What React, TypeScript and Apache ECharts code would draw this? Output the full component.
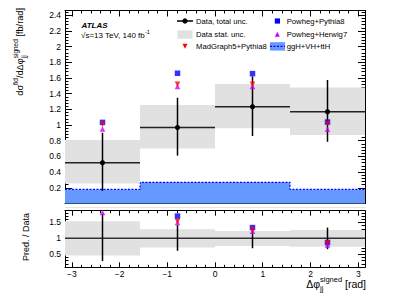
import React, { useEffect, useRef } from "react";
import * as echarts from "echarts";

// ---- data ----
const binEdges = [-3.1416, -1.5708, 0, 1.5708, 3.1416];
const binCenters = [-2.3562, -0.7854, 0.7854, 2.3562];
const dataValues = [0.519, 0.97, 1.233, 1.17];
const dataTotalLo = [0.162, 0.61, 0.86, 0.787];
const dataTotalHi = [0.902, 1.348, 1.62, 1.574];
const dataStatLo = [0.256, 0.7, 0.958, 0.872];
const dataStatHi = [0.81, 1.255, 1.523, 1.48];
const signalValues = [0.18, 0.27, 0.27, 0.18];
const powhegPythia = [1.034, 1.66, 1.655, 1.038];
const madgraphPythia = [1.01, 1.52, 1.52, 1.02];
const powhegHerwig = [0.95, 1.49, 1.49, 0.945];

const ratioTotalLo = [0.29, 0.61, 0.69, 0.66];
const ratioTotalHi = [1.78, 1.42, 1.31, 1.34];
const ratioStatLo = [0.46, 0.71, 0.76, 0.74];
const ratioStatHi = [1.54, 1.29, 1.23, 1.26];
const ratioPowhegPythia = [null, 1.7, 1.34, 0.87];
const ratioMadgraph = [null, 1.54, 1.27, 0.86];
const ratioHerwig = [1.81, 1.5, 1.22, 0.79];

const legendLeft = ["Data, total unc.", "Data stat. unc.", "MadGraph5+Pythia8"];
const legendRight = ["Powheg+Pythia8", "Powheg+Herwig7", "ggH+VH+ttH"];

const FONT = '"Liberation Sans", Arial, Helvetica, sans-serif';
const BLUE = "#0000ff";
const RED = "#ff0000";
const MAGENTA = "#cc00ff";
const BAND = "#e1e1e1";
const SIGFILL = "#6699ff";

const X0 = 65, XW = 300;
const G1T = 10.5, G1H = 193;
const G2T = 210.7, G2H = 56.6;

let ctx: CanvasRenderingContext2D | null = null;
function measure(t: string, size: number, weight = "normal", style = "normal") {
  if (!ctx) ctx = document.createElement("canvas").getContext("2d");
  if (!ctx) return t.length * size * 0.55;
  ctx.font = `${style} ${weight} ${size}px ${FONT}`;
  return ctx.measureText(t).width;
}

type Tok = { t: string; size: number; dy?: number; stackWith?: { t: string; size: number; dy: number } };
function layout(tokens: Tok[], color = "#000") {
  const children: any[] = [];
  let x = 0;
  for (const tk of tokens) {
    const w1 = measure(tk.t, tk.size);
    children.push({
      type: "text", x, y: tk.dy || 0,
      style: { text: tk.t, fontSize: tk.size, fontFamily: FONT, fill: color, align: "left", verticalAlign: "middle" },
    });
    let w = w1;
    if (tk.stackWith) {
      const w2 = measure(tk.stackWith.t, tk.stackWith.size);
      children.push({
        type: "text", x, y: tk.stackWith.dy,
        style: { text: tk.stackWith.t, fontSize: tk.stackWith.size, fontFamily: FONT, fill: color, align: "left", verticalAlign: "middle" },
      });
      w = Math.max(w1, w2);
    }
    x += w;
  }
  return { children, width: x };
}

function fmtTick(v: number, step: number) {
  const k = Math.round(v / step);
  if (Math.abs(v - k * step) > 1e-6) return "";
  const r = parseFloat((k * step).toFixed(2));
  return r < 0 ? "\u2212" + Math.abs(r) : String(r);
}

function errRender(withBar: boolean, withMarker: boolean) {
  return (params: any, api: any) => {
    const x = api.value(0), y = api.value(1);
    const xl = api.value(2), xh = api.value(3), yl = api.value(4), yh = api.value(5);
    const c = api.coord([x, y]);
    const lo = api.coord([x, yl]);
    const hi = api.coord([x, yh]);
    const children: any[] = [];
    if (withBar) {
      const l = api.coord([xl, y]);
      const r = api.coord([xh, y]);
      children.push({ type: "line", shape: { x1: l[0], y1: l[1], x2: r[0], y2: r[1] }, style: { stroke: "#222", lineWidth: 1.5 } });
    }
    children.push({ type: "line", shape: { x1: lo[0], y1: lo[1], x2: hi[0], y2: hi[1] }, style: { stroke: "#000", lineWidth: 1.5 } });
    if (withMarker) children.push({ type: "circle", shape: { cx: c[0], cy: c[1], r: 2.6 }, style: { fill: "#000" } });
    return { type: "group", children };
  };
}

function bandRender(params: any, api: any) {
  const p0 = api.coord([api.value(0), api.value(3)]);
  const p1 = api.coord([api.value(1), api.value(2)]);
  return { type: "rect", shape: { x: p0[0], y: p0[1], width: p1[0] - p0[0], height: p1[1] - p0[1] }, style: { fill: BAND } };
}

export default function App() {
  const ref = useRef<HTMLDivElement>(null);
  useEffect(() => {
    if (!ref.current) return;
    const chart = echarts.init(ref.current, null, { renderer: "svg" });

    const tickStyle = (len: number, mlen: number, split: number) => ({
      axisTick: { show: true, inside: true, length: len, lineStyle: { color: "#000", width: 1 } },
      minorTick: { show: true, splitNumber: split, length: mlen, lineStyle: { color: "#000", width: 1 } },
      axisLine: { show: true, onZero: false, lineStyle: { color: "#000", width: 1 } },
      splitLine: { show: false },
    });
    const labelStyle = { color: "#000", fontSize: 8.5, fontFamily: FONT };

    const PI = 3.14159265;
    const xBase = (grid: number, pos: "bottom" | "top", labels: boolean, len: number) => ({
      type: "value", gridIndex: grid, position: pos, min: -PI, max: PI, splitNumber: 6,
      ...tickStyle(len, len / 2, 5),
      axisLabel: labels
        ? { show: true, ...labelStyle, margin: 2, formatter: (v: number) => fmtTick(v, 1) }
        : { show: false },
    });

    const bandData = (lo: number[], hi: number[]) => binCenters.map((_, i) => [binEdges[i], binEdges[i + 1], lo[i], hi[i]]);
    const errData = (vals: number[], lo: number[], hi: number[]) =>
      binCenters.map((c, i) => [c, vals[i], binEdges[i], binEdges[i + 1], lo[i], hi[i]]);
    const signalData = [...signalValues.map((v, i) => [binEdges[i], v]), [binEdges[4], signalValues[3]]];
    const pts = (vals: (number | null)[]) => binCenters.map((c, i) => [c, vals[i] == null ? "-" : vals[i]]);

    // titles
    const yTitle = layout([
      { t: "d\u03c3", size: 9.2 },
      { t: "fid", size: 6.5, dy: -4.2 },
      { t: "/d\u0394\u03c6", size: 9.2 },
      { t: "signed", size: 6.5, dy: -4.2, stackWith: { t: "jj", size: 6.5, dy: 3.8 } },
      { t: " [fb/rad]", size: 9.2 },
    ]);
    const rTitle = layout([{ t: "Pred. / Data", size: 9 }]);
    const xTitle = layout([
      { t: "\u0394\u03c6", size: 10.5 },
      { t: "signed", size: 7.5, dy: -4.5, stackWith: { t: "jj", size: 7.5, dy: 4.5 } },
      { t: " [rad]", size: 10.5 },
    ]);
    const lumi = layout([
      { t: "\u221as=13 TeV, 140 fb", size: 8 },
      { t: "-1", size: 5.5, dy: -3.2 },
    ]);

    const legText = (t: string, x: number, y: number) => ({
      type: "text", x, y,
      style: { text: t, fontSize: 7.7, fontFamily: FONT, fill: "#000", align: "left", verticalAlign: "middle" },
    });
    const tri = (cx: number, cy: number, s: number, up: boolean, color: string) => ({
      type: "polygon",
      shape: {
        points: up
          ? [[cx - s / 2, cy + s / 2], [cx + s / 2, cy + s / 2], [cx, cy - s / 2]]
          : [[cx - s / 2, cy - s / 2], [cx + s / 2, cy - s / 2], [cx, cy + s / 2]],
      },
      style: { fill: color },
    });
    const rows = [21, 34.3, 46.3];

    const option: any = {
      animation: false,
      backgroundColor: "#fff",
      grid: [
        { left: X0, top: G1T, width: XW, height: G1H, containLabel: false },
        { left: X0, top: G2T, width: XW, height: G2H, containLabel: false },
      ],
      xAxis: [
        xBase(0, "bottom", false, 6),
        xBase(0, "top", false, 6),
        xBase(1, "bottom", true, 5),
        xBase(1, "top", false, 5),
      ],
      yAxis: [
        {
          type: "value", gridIndex: 0, position: "left", min: 0, max: 2.46, interval: 0.2,
          ...tickStyle(7, 3.5, 5),
          axisLabel: { show: true, ...labelStyle, margin: 4, formatter: (v: number) => (v < 0.1 ? "" : fmtTick(v, 0.2)) },
        },
        {
          type: "value", gridIndex: 0, position: "right", min: 0, max: 2.46, interval: 0.2,
          ...tickStyle(7, 3.5, 5), axisLabel: { show: false },
        },
        {
          type: "value", gridIndex: 1, position: "left", min: 0.09, max: 1.87, splitNumber: 4,
          ...tickStyle(7, 3.5, 5),
          axisLabel: { show: true, ...labelStyle, margin: 4, formatter: (v: number) => fmtTick(v, 0.5) },
        },
        {
          type: "value", gridIndex: 1, position: "right", min: 0.09, max: 1.87, splitNumber: 4,
          ...tickStyle(7, 3.5, 5), axisLabel: { show: false },
        },
      ],
      series: [
        // upper panel
        {
          type: "line", xAxisIndex: 0, yAxisIndex: 0, step: "end", data: signalData, symbol: "none", z: 1,
          lineStyle: { color: BLUE, width: 1.2, type: [2, 1.5] },
          areaStyle: { color: SIGFILL, opacity: 1 },
        },
        { type: "custom", xAxisIndex: 0, yAxisIndex: 0, data: bandData(dataStatLo, dataStatHi), encode: { x: [0, 1], y: [2, 3] }, renderItem: bandRender, z: 2 },
        { type: "custom", xAxisIndex: 0, yAxisIndex: 0, data: errData(dataValues, dataTotalLo, dataTotalHi), encode: { x: [0, 2, 3], y: [1, 4, 5] }, renderItem: errRender(true, true), z: 3 },
        { type: "scatter", xAxisIndex: 0, yAxisIndex: 0, data: pts(powhegPythia), symbol: "rect", symbolSize: 5.5, itemStyle: { color: BLUE }, z: 4 },
        { type: "scatter", xAxisIndex: 0, yAxisIndex: 0, data: pts(powhegHerwig), symbol: "triangle", symbolSize: 5.5, itemStyle: { color: MAGENTA }, z: 5 },
        { type: "scatter", xAxisIndex: 0, yAxisIndex: 0, data: pts(madgraphPythia), symbol: "triangle", symbolRotate: 180, symbolSize: 5.5, itemStyle: { color: RED }, z: 6 },
        // ratio panel
        { type: "custom", xAxisIndex: 2, yAxisIndex: 2, data: bandData(ratioStatLo, ratioStatHi), encode: { x: [0, 1], y: [2, 3] }, renderItem: bandRender, z: 2 },
        {
          type: "line", xAxisIndex: 2, yAxisIndex: 2, data: [[binEdges[0], 1], [binEdges[4], 1]], symbol: "none", z: 3,
          lineStyle: { color: "#333", width: 1.5 },
        },
        { type: "custom", xAxisIndex: 2, yAxisIndex: 2, data: errData(dataValues.map(() => 1), ratioTotalLo, ratioTotalHi), encode: { x: [0, 2, 3], y: [1, 4, 5] }, renderItem: errRender(false, false), z: 4 },
        { type: "scatter", xAxisIndex: 2, yAxisIndex: 2, data: pts(ratioPowhegPythia), symbol: "rect", symbolSize: 5.5, itemStyle: { color: BLUE }, z: 5, clip: true },
        { type: "scatter", xAxisIndex: 2, yAxisIndex: 2, data: pts(ratioHerwig), symbol: "triangle", symbolSize: 5.5, itemStyle: { color: MAGENTA }, z: 6, clip: true },
        { type: "scatter", xAxisIndex: 2, yAxisIndex: 2, data: pts(ratioMadgraph), symbol: "triangle", symbolRotate: 180, symbolSize: 5.5, itemStyle: { color: RED }, z: 7, clip: true },
      ],
      graphic: [
        { type: "line", shape: { x1: X0, y1: 207.5, x2: X0 + XW + 1, y2: 207.5 }, style: { stroke: "#e4e4e4", lineWidth: 1 }, silent: true },
        { type: "group", x: 20, y: 8, rotation: Math.PI / 2, children: yTitle.children.map((c) => ({ ...c, x: c.x - yTitle.width })) },
        { type: "group", x: 26, y: 213, rotation: Math.PI / 2, children: rTitle.children.map((c) => ({ ...c, x: c.x - rTitle.width })) },
        { type: "group", x: 366 - xTitle.width, y: 283.5, children: xTitle.children },
        {
          type: "text", x: 81.5, y: 25,
          style: { text: "ATLAS", fontSize: 8, fontWeight: "bold", fontStyle: "italic", fontFamily: FONT, fill: "#000", verticalAlign: "middle" },
        },
        { type: "group", x: 81, y: 35.5, children: lumi.children },
        // legend
        { type: "line", shape: { x1: 177, y1: rows[0], x2: 193, y2: rows[0] }, style: { stroke: "#000", lineWidth: 1.5 } },
        { type: "circle", shape: { cx: 185, cy: rows[0], r: 2.6 }, style: { fill: "#000" } },
        { type: "rect", shape: { x: 177.5, y: 30.3, width: 15, height: 8.4 }, style: { fill: BAND } },
        tri(185, rows[2], 5, false, RED),
        { type: "rect", shape: { x: 274.8, y: rows[0] - 2.6, width: 5.2, height: 5.2 }, style: { fill: BLUE } },
        tri(277.3, rows[1], 5, true, MAGENTA),
        { type: "rect", shape: { x: 270, y: 42.2, width: 15, height: 8.4 }, style: { fill: SIGFILL } },
        { type: "line", shape: { x1: 270, y1: rows[2], x2: 285, y2: rows[2] }, style: { stroke: BLUE, lineWidth: 1.2, lineDash: [2, 1.5] } },
        legText(legendLeft[0], 196, rows[0]),
        legText(legendLeft[1], 196, rows[1]),
        legText(legendLeft[2], 196, rows[2]),
        legText(legendRight[0], 286.7, rows[0]),
        legText(legendRight[1], 286.7, rows[1]),
        legText(legendRight[2], 286.7, rows[2]),
      ],
    };
    chart.setOption(option);
    return () => chart.dispose();
  }, []);
  return <div ref={ref} style={{ position: "fixed", left: 0, top: 0, width: 407, height: 294 }} />;
}
